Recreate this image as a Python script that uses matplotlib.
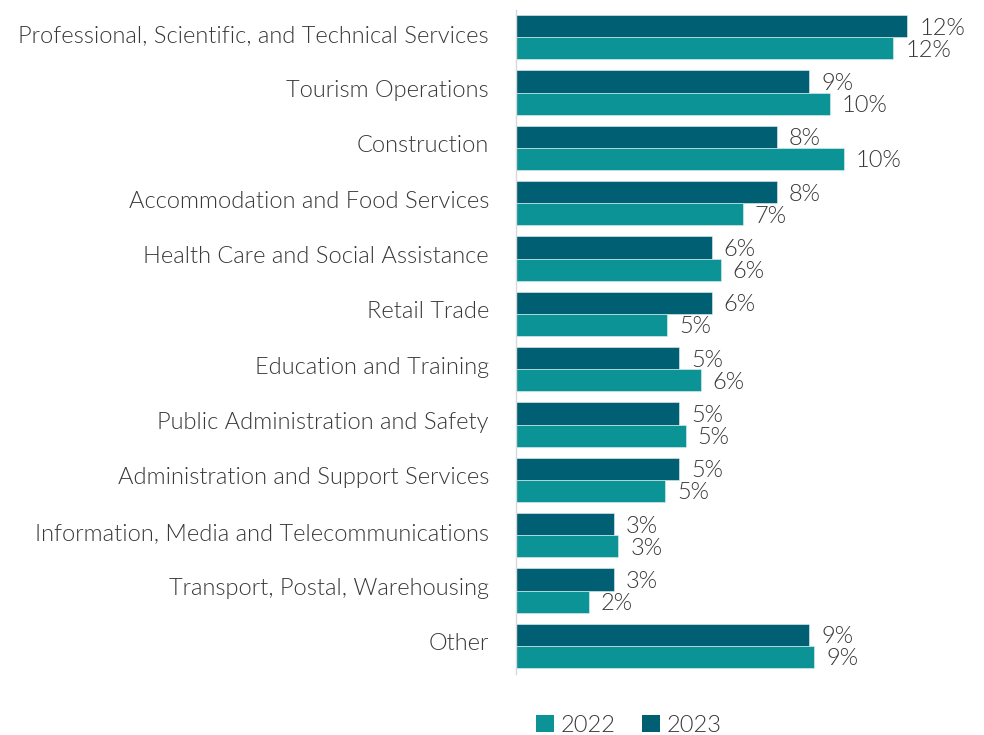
import matplotlib
matplotlib.use("Agg")
import matplotlib.pyplot as plt
import matplotlib.transforms as mtransforms
from matplotlib.patches import Patch
import numpy as np

plt.rcParams['font.family'] = ['Lato', 'DejaVu Sans']

categories = [
    "Professional, Scientific, and Technical Services",
    "Tourism Operations",
    "Construction",
    "Accommodation and Food Services",
    "Health Care and Social Assistance",
    "Retail Trade",
    "Education and Training",
    "Public Administration and Safety",
    "Administration and Support Services",
    "Information, Media and Telecommunications",
    "Transport, Postal, Warehousing",
    "Other",
]
share_2022 = [11.57, 9.63, 10.06, 6.95, 6.28, 4.64, 5.67, 5.20, 4.57, 3.14, 2.24, 9.15]
share_2023 = [12.0, 9.0, 8.0, 8.0, 6.0, 6.0, 5.0, 5.0, 5.0, 3.0, 3.0, 9.0]
series_names = ["2022", "2023"]

color_2022 = "#0b9396"
color_2023 = "#005f72"
text_color = "#383838"
font_size = 17
weight = 300

fig = plt.figure(figsize=(9.84, 7.35), dpi=100)
ax = fig.add_axes([516 / 984, 1 - 673.5 / 735, 444 / 984, 664 / 735])

y = np.arange(len(categories))
h = 0.4
bars23 = ax.barh(y - h / 2, share_2023, height=h, color=color_2023, edgecolor="#e8f2f3", linewidth=0.4)
bars22 = ax.barh(y + h / 2, share_2022, height=h, color=color_2022, edgecolor="#e8f2f3", linewidth=0.4)

for bars, vals in ((bars23, share_2023), (bars22, share_2022)):
    for b, v in zip(bars, vals):
        ax.annotate(f"{v:.0f}%", xy=(v, b.get_y() + b.get_height() / 2),
                    xytext=(12, -2), textcoords="offset pixels",
                    va="center", ha="left", fontsize=font_size, color=text_color, fontweight=weight)

ax.set_ylim(len(categories) - 0.5, -0.5)
ax.set_xlim(0, 444 / 32.6)
ax.set_yticks(y)
ax.set_yticklabels(categories, fontsize=font_size, color=text_color, fontweight=weight)
ax.tick_params(axis="y", length=0, pad=19.5)
lift = mtransforms.ScaledTranslation(0, 4 / 100, fig.dpi_scale_trans)
for lbl in ax.get_yticklabels():
    lbl.set_transform(lbl.get_transform() + lift)
ax.set_xticks([])
for s in ("top", "right", "bottom"):
    ax.spines[s].set_visible(False)
ax.spines["left"].set_color("#d9d9d9")
ax.spines["left"].set_linewidth(1.0)

handles = [Patch(facecolor=color_2022), Patch(facecolor=color_2023)]
fig.legend(handles, series_names, loc="center", bbox_to_anchor=(629 / 984, 1 - 725 / 735),
           ncol=2, frameon=False, prop={"size": font_size, "weight": weight}, labelcolor=text_color,
           handlelength=0.75, handleheight=0.75, handletextpad=0.3, columnspacing=1.1)

fig.savefig("out.png", dpi=100, facecolor="white")
